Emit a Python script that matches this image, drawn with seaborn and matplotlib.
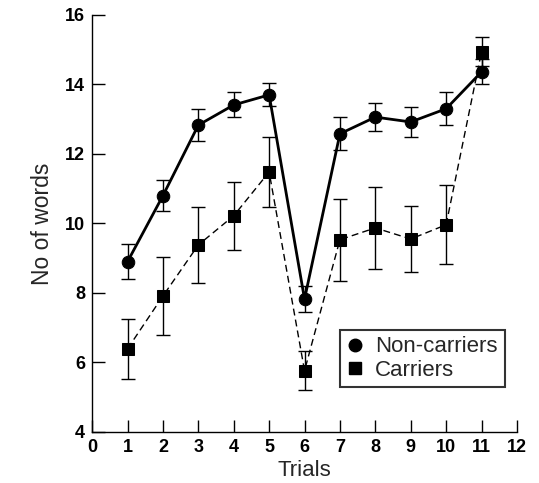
import numpy as np
import pandas as pd
import matplotlib
matplotlib.use("Agg")
import matplotlib.pyplot as plt
from matplotlib.lines import Line2D
import seaborn as sns

# Data
trials = [1, 2, 3, 4, 5, 6, 7, 8, 9, 10, 11]
non_carriers = [8.9, 10.8, 12.83, 13.41, 13.7, 7.82, 12.58, 13.06, 12.92, 13.3, 14.36]
non_carriers_err = [0.5, 0.45, 0.45, 0.36, 0.33, 0.38, 0.47, 0.4, 0.43, 0.48, 0.36]
carriers = [6.39, 7.91, 9.38, 10.22, 11.48, 5.76, 9.53, 9.87, 9.55, 9.96, 14.94]
carriers_err = [0.86, 1.12, 1.1, 0.98, 1.0, 0.56, 1.18, 1.17, 0.96, 1.14, 0.42]

sns.set_style("ticks")
plt.rcParams["font.family"] = ["Liberation Sans", "DejaVu Sans"]

df = pd.DataFrame({
    "Trials": trials * 2,
    "Words": non_carriers + carriers,
    "Err": non_carriers_err + carriers_err,
    "Group": ["Non-carriers"] * len(trials) + ["Carriers"] * len(trials),
})

fig, ax = plt.subplots(figsize=(5.39, 4.83), dpi=100)
fig.subplots_adjust(left=0.171, right=0.959, bottom=0.106, top=0.969)

# error bars first, then lines with markers
for grp in ["Carriers", "Non-carriers"]:
    sub = df[df["Group"] == grp]
    ax.errorbar(sub["Trials"], sub["Words"], yerr=sub["Err"], fmt="none",
                ecolor="black", elinewidth=1.0, capsize=5, capthick=1.0, zorder=2)

sns.lineplot(data=df[df["Group"] == "Carriers"], x="Trials", y="Words", ax=ax,
             color="black", linestyle=(0, (5, 3)), linewidth=1.0, marker="s",
             markersize=8, markeredgecolor="black", zorder=3)
sns.lineplot(data=df[df["Group"] == "Non-carriers"], x="Trials", y="Words", ax=ax,
             color="black", linestyle="-", linewidth=2.0, marker="o",
             markersize=9, markeredgecolor="black", zorder=4)

ax.set_xlim(0, 12)
ax.set_ylim(4, 16)
ax.set_xticks(range(0, 13))
ax.set_yticks(range(4, 17, 2))
ax.tick_params(direction="in", length=9, width=1.0, labelsize=13, colors="black", pad=5)
for lbl in ax.get_xticklabels() + ax.get_yticklabels():
    lbl.set_fontweight("bold")
ax.set_xlabel("Trials", fontsize=16, labelpad=3)
ax.set_ylabel("No of words", fontsize=16.5, labelpad=8)
sns.despine(ax=ax)
for s in ["left", "bottom"]:
    ax.spines[s].set_color("black")
    ax.spines[s].set_linewidth(1.0)

handles = [
    Line2D([], [], color="black", marker="o", linestyle="none", markersize=9),
    Line2D([], [], color="black", marker="s", linestyle="none", markersize=8),
]
leg = ax.legend(handles, ["Non-carriers", "Carriers"], loc="lower right",
                bbox_to_anchor=(0.997, 0.08), fontsize=16, frameon=True,
                fancybox=False, edgecolor="black", handlelength=0.8,
                handletextpad=0.5, borderpad=0.3, labelspacing=0.1)
leg.get_frame().set_linewidth(1.5)

fig.savefig("out.png", dpi=100)
